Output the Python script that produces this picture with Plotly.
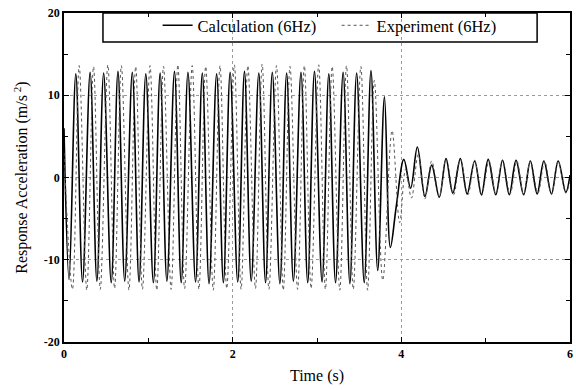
import plotly.graph_objects as go

# ---- data (extrema of each waveform) ----
calc_t = [0.00, 0.06, 0.14, 0.22, 0.31, 0.39, 0.47, 0.56, 0.64, 0.72, 0.81, 0.89, 0.97,
          1.06, 1.14, 1.22, 1.31, 1.39, 1.47, 1.56, 1.64, 1.72, 1.81, 1.89, 1.97,
          2.06, 2.14, 2.22, 2.31, 2.39, 2.47, 2.56, 2.64, 2.72, 2.81, 2.89, 2.97,
          3.06, 3.14, 3.22, 3.31, 3.39, 3.47, 3.56, 3.64, 3.72, 3.80, 3.87, 3.94,
          4.03, 4.11, 4.19, 4.28, 4.36, 4.45, 4.53, 4.61, 4.70, 4.78, 4.87, 4.95,
          5.03, 5.12, 5.20, 5.28, 5.36, 5.45, 5.53, 5.61, 5.69, 5.78, 5.86, 5.95, 6.00]
calc_a = [6.0, -12.4, 12.6, -12.7, 12.8, -12.6, 12.7, -12.8, 12.9, -12.6, 12.8, -12.7, 12.6,
          -12.8, 12.7, -12.6, 12.9, -12.8, 12.8, -12.7, 12.7, -12.9, 12.6, -12.8, 12.8,
          -12.7, 12.9, -12.6, 12.7, -12.8, 12.8, -12.9, 12.7, -12.6, 12.8, -12.8, 12.9,
          -12.7, 12.6, -12.8, 12.8, -12.9, 12.7, -12.8, 13.0, -11.3, 9.8, -8.5, -3.5,
          2.2, -1.3, 3.7, -2.3, 1.5, -2.4, 2.3, -1.9, 2.3, -2.0, 2.0, -2.1,
          2.2, -2.1, 2.1, -2.1, 2.1, -2.1, 2.0, -2.0, 2.0, -2.0, 2.0, -1.8, 0.3]

exp_t = [0.00, 0.10, 0.18, 0.27, 0.35, 0.43, 0.52, 0.60, 0.68, 0.77, 0.85, 0.93,
         1.02, 1.10, 1.18, 1.27, 1.35, 1.43, 1.52, 1.60, 1.68, 1.77, 1.85, 1.93,
         2.02, 2.10, 2.18, 2.27, 2.35, 2.43, 2.52, 2.60, 2.68, 2.77, 2.85, 2.93,
         3.02, 3.10, 3.18, 3.27, 3.35, 3.43, 3.52, 3.60, 3.68, 3.78, 3.89, 3.98,
         4.05, 4.12, 4.20, 4.28, 4.36, 4.45, 4.53, 4.62, 4.70, 4.79, 4.87, 4.95,
         5.04, 5.12, 5.20, 5.29, 5.37, 5.45, 5.53, 5.62, 5.70, 5.78, 5.86, 5.95, 6.00]
exp_a = [3.0, -13.6, 13.6, -13.7, 13.5, -13.6, 13.7, -13.5, 13.6, -13.7, 13.5, -13.6,
         13.6, -13.7, 13.5, -13.6, 13.7, -13.5, 13.6, -13.6, 13.5, -13.7, 13.6, -13.5,
         13.7, -13.6, 13.6, -13.5, 13.8, -13.6, 13.6, -13.7, 13.5, -13.6, 13.6, -13.5,
         13.7, -13.6, 13.5, -13.7, 13.6, -13.6, 13.5, -13.7, 11.8, -12.5, 5.7, -5.5,
         1.0, -2.5, 2.8, -2.6, 2.0, -2.3, 2.2, -2.1, 2.2, -2.1, 2.1, -2.2,
         2.0, -2.0, 2.1, -2.0, 2.0, -2.1, 2.0, -1.9, 2.0, -2.0, 2.0, -1.9, -0.5]

x_ticks = [0, 2, 4, 6]
y_ticks = [-20, -10, 0, 10, 20]

SERIF = "Liberation Serif"

fig = go.Figure()
fig.add_trace(go.Scatter(x=calc_t, y=calc_a, mode="lines", name="Calculation (6Hz)",
                         line=dict(color="black", width=1.6, shape="spline", smoothing=1.0)))
fig.add_trace(go.Scatter(x=exp_t, y=exp_a, mode="lines", name="Experiment (6Hz)",
                         line=dict(color="#555555", width=1, dash="dot", shape="spline", smoothing=1.0)))

# legend frame
fig.add_shape(type="rect", xref="paper", yref="paper", x0=0.077, x1=0.935, y0=0.912, y1=1.0,
              line=dict(color="black", width=1.5), fillcolor="white", layer="below")

axis_common = dict(
    showline=True, linecolor="black", linewidth=1.5, mirror="ticks",
    ticks="inside", ticklen=5, tickwidth=1, tickcolor="black",
    showgrid=True, gridcolor="#9a9a9a", griddash="dot", gridwidth=1,
    zeroline=False,
    tickfont=dict(family=SERIF, size=12, color="black", weight="bold"),
)

fig.update_layout(
    width=576, height=390,
    margin=dict(l=64, r=3, t=13, b=48),
    paper_bgcolor="white", plot_bgcolor="white",
    showlegend=True,
    legend=dict(orientation="h", x=0.185, xanchor="left", y=1.015, yanchor="top",
                bgcolor="rgba(0,0,0,0)", borderwidth=0,
                font=dict(family=SERIF, size=16.5, color="black"),
                entrywidth=134, entrywidthmode="pixels"),
    xaxis=dict(range=[0, 6], tickvals=x_ticks, ticktext=[str(v) for v in x_ticks],
               minor=dict(dtick=1, tick0=0, ticks="inside", ticklen=4, tickcolor="black", showgrid=False),
               title=dict(text="Time (s)", font=dict(family=SERIF, size=16, color="black"), standoff=10),
               **axis_common),
    yaxis=dict(range=[-20, 20], tickvals=y_ticks, ticktext=[str(v) for v in y_ticks],
               minor=dict(dtick=5, tick0=0, ticks="inside", ticklen=4, tickcolor="black", showgrid=False),
               title=dict(text="Response Acceleration (m/s<sup> 2</sup>)",
                          font=dict(family=SERIF, size=16, color="black"), standoff=12),
               **axis_common),
)

fig.write_html("out.html", config={"displayModeBar": False},
               post_script="document.body.style.margin='0px';")
